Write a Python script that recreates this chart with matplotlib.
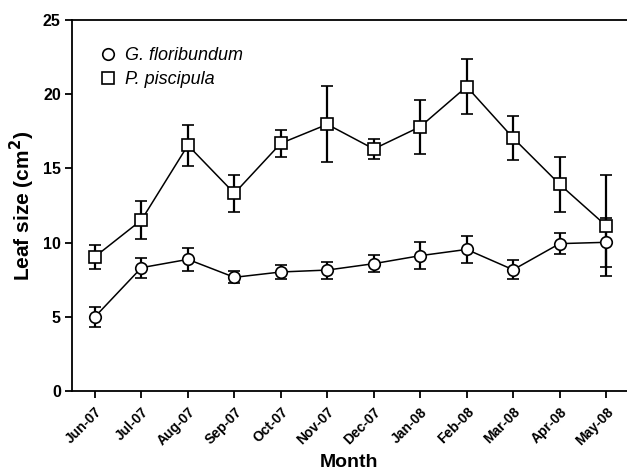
import matplotlib
matplotlib.use("Agg")
import matplotlib.pyplot as plt
from matplotlib.lines import Line2D
import numpy as np

plt.rcParams['font.family'] = ['Liberation Sans', 'DejaVu Sans']

months = ["Jun-07", "Jul-07", "Aug-07", "Sep-07", "Oct-07", "Nov-07",
          "Dec-07", "Jan-08", "Feb-08", "Mar-08", "Apr-08", "May-08"]
g_mean = [5.0, 8.31, 8.87, 7.66, 8.02, 8.15, 8.58, 9.12, 9.54, 8.17, 9.93, 10.02]
g_err = [0.67, 0.67, 0.77, 0.40, 0.50, 0.57, 0.58, 0.91, 0.93, 0.63, 0.73, 1.65]
p_mean = [9.05, 11.52, 16.56, 13.32, 16.69, 17.97, 16.31, 17.81, 20.51, 17.05, 13.93, 11.14]
p_err = [0.80, 1.28, 1.37, 1.26, 0.90, 2.55, 0.67, 1.83, 1.87, 1.47, 1.87, 3.41]
series_names = ["G. floribundum", "P. piscipula"]

fig = plt.figure(figsize=(6.27, 4.74), dpi=100)
ax = fig.add_axes([0.1148, 0.1751, 0.8852, 0.7827])
x = np.arange(len(months))

ms = 8.3
ax.errorbar(x, g_mean, yerr=g_err, fmt='-o', color='black', lw=1.1,
            elinewidth=1.6, capsize=4.3, capthick=1.6, ms=ms,
            mfc='white', mec='black', mew=1.2, zorder=3)
ax.errorbar(x, p_mean, yerr=p_err, fmt='-s', color='black', lw=1.1,
            elinewidth=1.6, capsize=4.3, capthick=1.6, ms=ms,
            mfc='white', mec='black', mew=1.2, zorder=3)

ax.set_xlim(-0.495, 11.45)
ax.set_ylim(0, 25)
ax.set_yticks([0, 5, 10, 15, 20, 25])
ax.set_xticks(x)
ax.set_xticklabels(months, rotation=45, ha='right', rotation_mode='anchor',
                   fontweight='bold', fontsize=10)
for lab in ax.get_yticklabels():
    lab.set_fontweight('bold')
    lab.set_fontsize(11.5)
ax.tick_params(direction='out', length=5, width=1.3, colors='black', pad=3)
ax.tick_params(axis='x', pad=5)
ax.spines['right'].set_visible(False)
for s in ['left', 'top', 'bottom']:
    ax.spines[s].set_linewidth(1.3)

ax.set_xlabel('Month', fontsize=14, fontweight='bold', labelpad=4)
ax.set_ylabel('Leaf size (cm$\\mathbf{^2}$)', fontsize=15, fontweight='bold', labelpad=4)

handles = [Line2D([], [], ls='none', marker='o', ms=ms, mfc='white', mec='black', mew=1.2),
           Line2D([], [], ls='none', marker='s', ms=ms, mfc='white', mec='black', mew=1.2)]
ax.legend(handles, series_names, loc='upper left', bbox_to_anchor=(0.048, 0.926),
          frameon=False, prop={'style': 'italic', 'size': 13},
          handletextpad=0.45, handlelength=1.0, labelspacing=0.37,
          borderpad=0, borderaxespad=0)

fig.savefig('out.png', dpi=100)
